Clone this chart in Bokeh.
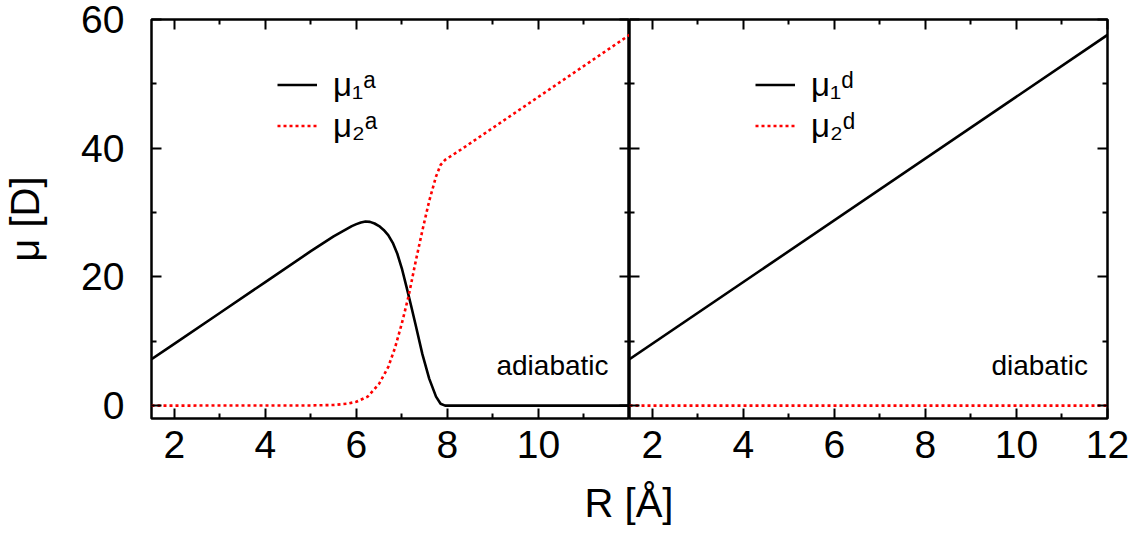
from bokeh.plotting import figure
from bokeh.models import LinearAxis, FixedTicker, Range1d, Label, Div
from bokeh.layouts import row, column
from bokeh.embed import file_html
from bokeh.resources import INLINE

# Adiabatic dipole moments (D) versus separation R (Å)
r_adia_1 = [1.5, 2.0, 3.0, 4.0, 5.0, 5.5, 5.9, 6.0, 6.1, 6.2, 6.3, 6.4, 6.5, 6.6,
            6.7, 6.8, 6.9, 7.0, 7.1, 7.2, 7.3, 7.45, 7.6, 7.75, 7.85, 7.95, 12.0]
mu_adia_1 = [7.2, 9.6, 14.4, 19.2, 24.0, 26.3, 27.9, 28.2, 28.45, 28.6, 28.55, 28.3,
             27.9, 27.3, 26.5, 25.3, 23.6, 21.3, 18.5, 15.6, 12.6, 8.0, 4.2, 1.4, 0.3,
             0.0, 0.0]
r_adia_2 = [1.5, 5.0, 5.5, 5.8, 6.0, 6.25, 6.5, 6.7, 6.85, 7.0, 7.15, 7.3, 7.45,
            7.6, 7.75, 7.85, 7.95, 8.3, 12.0]
mu_adia_2 = [0.0, 0.03, 0.1, 0.3, 0.6, 1.4, 3.4, 6.0, 9.0, 12.8, 17.1, 22.3, 27.2,
             31.8, 35.6, 37.4, 38.2, 39.8, 57.6]

# Diabatic dipole moments
r_dia = [1.5, 12.0]
mu_dia_1 = [7.2, 57.6]
mu_dia_2 = [0.0, 0.0]

# Axis ticks
x_major_left = [2, 4, 6, 8, 10]
x_major_right = [2, 4, 6, 8, 10, 12]
x_minor = [3, 5, 7, 9, 11]
y_major = [0, 20, 40, 60]
y_minor = [10, 30, 50]

FONT = "Liberation Sans"
RED = "#ff0000"


def add_axis(p, place, major, minor, labels):
    ax = LinearAxis(ticker=FixedTicker(ticks=major, minor_ticks=minor))
    ax.axis_line_color = None
    ax.major_tick_in = 10
    ax.major_tick_out = 0
    ax.minor_tick_in = 5
    ax.minor_tick_out = 0
    ax.major_tick_line_width = 2
    ax.minor_tick_line_width = 2
    ax.major_tick_line_color = "black"
    ax.minor_tick_line_color = "black"
    if labels:
        ax.major_label_text_font = FONT
        ax.major_label_text_font_size = "39px"
        ax.major_label_text_color = "black"
    else:
        # mirrored tick marks only
        ax.major_label_overrides = {t: "" for t in major}
        ax.major_label_text_font_size = "1px"
        ax.major_label_standoff = 0
    p.add_layout(ax, place)
    return ax


def make_panel(width, border_left, border_right, x_major, y_labels):
    p = figure(width=width, height=472,
               x_range=Range1d(1.5, 12), y_range=Range1d(-2, 60),
               x_axis_type=None, y_axis_type=None,
               output_backend="svg", toolbar_location=None,
               min_border_left=border_left, min_border_right=border_right,
               min_border_top=19, min_border_bottom=54)
    p.outline_line_color = "black"
    p.outline_line_width = 2.5
    p.background_fill_color = "white"
    p.border_fill_color = "white"

    bottom = add_axis(p, "below", x_major, x_minor, True)
    bottom.major_label_standoff = 12
    add_axis(p, "above", x_major, x_minor, False)
    left = add_axis(p, "left", y_major, y_minor, y_labels)
    if y_labels:
        left.major_label_standoff = 27
        left.axis_label = "μ [D]"
        left.axis_label_text_font = FONT
        left.axis_label_text_font_size = "40px"
        left.axis_label_text_font_style = "normal"
        left.axis_label_text_color = "black"
        left.axis_label_standoff = 31
    add_axis(p, "right", y_major, y_minor, False)
    return p


def style_legend(p):
    lg = p.legend[0]
    lg.location = (126, 272)
    lg.padding = 0
    lg.margin = 0
    lg.spacing = 0
    lg.glyph_width = 40
    lg.glyph_height = 41
    lg.label_height = 41
    lg.label_standoff = 16
    lg.label_text_font = FONT
    lg.label_text_font_size = "33px"
    lg.label_text_color = "black"
    lg.border_line_color = None
    lg.background_fill_alpha = 0


# Adiabatic panel
p1 = make_panel(629, 150, 0, x_major_left, True)
p1.line(r_adia_1, mu_adia_1, line_color="black", line_width=2.6, legend_label="μ₁ᵃ")
p1.line(r_adia_2, mu_adia_2, line_color=RED, line_width=2.6, line_dash="3 3",
        legend_label="μ₂ᵃ")
style_legend(p1)
p1.add_layout(Label(x=11.54, y=6.2, text="adiabatic", text_align="right",
                    text_baseline="middle", text_font=FONT, text_font_size="28px",
                    text_color="black"))

# Diabatic panel
p2 = make_panel(511, 0, 33, x_major_right, False)
p2.line(r_dia, mu_dia_1, line_color="black", line_width=2.6, legend_label="μ₁ᵈ")
p2.line(r_dia, mu_dia_2, line_color=RED, line_width=2.6, line_dash="3 3",
        legend_label="μ₂ᵈ")
style_legend(p2)
p2.add_layout(Label(x=11.57, y=6.2, text="diabatic", text_align="right",
                    text_baseline="middle", text_font=FONT, text_font_size="28px",
                    text_color="black"))

# Shared x-axis title under both panels
xtitle = Div(text="R [Å]", width=958, height=62, margin=(0, 0, 0, 150),
             styles={"font-family": FONT, "font-size": "40px", "text-align": "center",
                     "line-height": "62px", "color": "black"})

layout = column(row(p1, p2, spacing=0), xtitle, spacing=0)
open("out.html", "w").write(file_html(layout, INLINE))
